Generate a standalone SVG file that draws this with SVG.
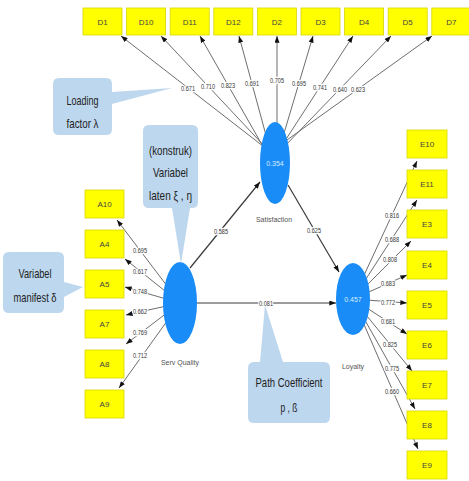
<svg xmlns="http://www.w3.org/2000/svg" width="469" height="481" viewBox="0 0 469 481">
  <defs>
    <marker id="arrow" viewBox="0 0 8 6" refX="8" refY="3" markerWidth="7" markerHeight="5" markerUnits="userSpaceOnUse" orient="auto">
      <path d="M0,0 L8,3 L0,6 Z" fill="#111"/>
    </marker>
    <style>
      .ind { fill: #ffff00; stroke: #d6d600; stroke-width: 0.8; }
      .ind-t { font-family: "Liberation Sans", Arial, sans-serif; font-size: 8px; fill: #444; text-anchor: middle; }
      .lv { fill: #1a8cf7; }
      .lv-v { font-family: "Liberation Sans", Arial, sans-serif; font-size: 7px; fill: #d8ecff; text-anchor: middle; }
      .lv-n { font-family: "Liberation Sans", Arial, sans-serif; font-size: 7px; fill: #555; text-anchor: middle; }
      .load { stroke: #6e6e6e; stroke-width: 1; fill: none; marker-end: url(#arrow); }
      .path { stroke: #3a3a3a; stroke-width: 1.2; fill: none; marker-end: url(#arrow); }
      .num { font-family: "Liberation Sans", Arial, sans-serif; font-size: 7px; fill: #333; text-anchor: middle;
             stroke: #fff; stroke-width: 2.5; paint-order: stroke; }
      .note { fill: #bdd7ee; }
      .note-t { font-family: "Liberation Sans", Arial, sans-serif; font-size: 13px; fill: #222; text-anchor: middle; }
    </style>
  </defs>
  <rect width="469" height="481" fill="#fff"/>

  <!-- connectors -->
  <g id="connectors">
    <!-- Satisfaction indicators -->
    <line class="load" x1="268" y1="150" x2="121" y2="36"/>
    <line class="load" x1="268" y1="150" x2="161" y2="36"/>
    <line class="load" x1="265" y1="150" x2="200" y2="36"/>
    <line class="load" x1="270" y1="150" x2="239" y2="36"/>
    <line class="load" x1="277" y1="150" x2="277" y2="36"/>
    <line class="load" x1="279" y1="150" x2="313" y2="36"/>
    <line class="load" x1="279" y1="150" x2="353" y2="36"/>
    <line class="load" x1="281" y1="150" x2="391" y2="36"/>
    <line class="load" x1="273" y1="150" x2="432" y2="36"/>
    <!-- Serv Quality indicators -->
    <line class="load" x1="180" y1="303" x2="117" y2="220"/>
    <line class="load" x1="180" y1="303" x2="125" y2="259"/>
    <line class="load" x1="180" y1="303" x2="125" y2="287"/>
    <line class="load" x1="180" y1="303" x2="126" y2="315"/>
    <line class="load" x1="180" y1="303" x2="126" y2="344"/>
    <line class="load" x1="180" y1="303" x2="119" y2="388"/>
    <!-- Loyalty indicators -->
    <line class="load" x1="353" y1="299" x2="417" y2="161"/>
    <line class="load" x1="353" y1="299" x2="417" y2="200"/>
    <line class="load" x1="353" y1="299" x2="411" y2="241"/>
    <line class="load" x1="353" y1="299" x2="407" y2="275"/>
    <line class="load" x1="353" y1="299" x2="407" y2="303"/>
    <line class="load" x1="353" y1="299" x2="407" y2="334"/>
    <line class="load" x1="353" y1="299" x2="412" y2="371"/>
    <line class="load" x1="353" y1="299" x2="415" y2="409"/>
    <line class="load" x1="353" y1="299" x2="418" y2="449"/>
    <!-- structural paths -->
    <line class="path" x1="190" y1="268" x2="260" y2="182"/>
    <line class="path" x1="288" y1="185" x2="339" y2="272"/>
    <line class="path" x1="197" y1="303" x2="336" y2="303"/>
  </g>

  <!-- indicator boxes, top row -->
  <g id="D1"><rect class="ind" x="83" y="8" width="39" height="27"/><text class="ind-t" x="102.5" y="24.5">D1</text></g>
  <g id="D10"><rect class="ind" x="126.6" y="8" width="39" height="27"/><text class="ind-t" x="146.1" y="24.5">D10</text></g>
  <g id="D11"><rect class="ind" x="170.2" y="8" width="39" height="27"/><text class="ind-t" x="189.7" y="24.5">D11</text></g>
  <g id="D12"><rect class="ind" x="213.8" y="8" width="39" height="27"/><text class="ind-t" x="233.3" y="24.5">D12</text></g>
  <g id="D2"><rect class="ind" x="257.4" y="8" width="39" height="27"/><text class="ind-t" x="276.9" y="24.5">D2</text></g>
  <g id="D3"><rect class="ind" x="301" y="8" width="39" height="27"/><text class="ind-t" x="320.5" y="24.5">D3</text></g>
  <g id="D4"><rect class="ind" x="344.6" y="8" width="39" height="27"/><text class="ind-t" x="364.1" y="24.5">D4</text></g>
  <g id="D5"><rect class="ind" x="388.2" y="8" width="39" height="27"/><text class="ind-t" x="407.7" y="24.5">D5</text></g>
  <g id="D7"><rect class="ind" x="431.8" y="8" width="39" height="27"/><text class="ind-t" x="451.3" y="24.5">D7</text></g>

  <!-- indicator boxes, left column -->
  <g id="A10"><rect class="ind" x="85" y="190" width="39" height="28"/><text class="ind-t" x="104.5" y="207">A10</text></g>
  <g id="A4"><rect class="ind" x="85" y="230" width="39" height="28"/><text class="ind-t" x="104.5" y="247">A4</text></g>
  <g id="A5"><rect class="ind" x="85" y="270" width="39" height="28"/><text class="ind-t" x="104.5" y="287">A5</text></g>
  <g id="A7"><rect class="ind" x="85" y="310" width="39" height="28"/><text class="ind-t" x="104.5" y="327">A7</text></g>
  <g id="A8"><rect class="ind" x="85" y="350" width="39" height="28"/><text class="ind-t" x="104.5" y="367">A8</text></g>
  <g id="A9"><rect class="ind" x="85" y="390" width="39" height="28"/><text class="ind-t" x="104.5" y="407">A9</text></g>

  <!-- indicator boxes, right column -->
  <g id="E10"><rect class="ind" x="407" y="130" width="40" height="28"/><text class="ind-t" x="427" y="147">E10</text></g>
  <g id="E11"><rect class="ind" x="407" y="170" width="40" height="28"/><text class="ind-t" x="427" y="187">E11</text></g>
  <g id="E3"><rect class="ind" x="407" y="210" width="40" height="28"/><text class="ind-t" x="427" y="227">E3</text></g>
  <g id="E4"><rect class="ind" x="407" y="251" width="40" height="28"/><text class="ind-t" x="427" y="268">E4</text></g>
  <g id="E5"><rect class="ind" x="407" y="291" width="40" height="28"/><text class="ind-t" x="427" y="308">E5</text></g>
  <g id="E6"><rect class="ind" x="407" y="331" width="40" height="28"/><text class="ind-t" x="427" y="348">E6</text></g>
  <g id="E7"><rect class="ind" x="407" y="371" width="40" height="28"/><text class="ind-t" x="427" y="388">E7</text></g>
  <g id="E8"><rect class="ind" x="407" y="411" width="40" height="28"/><text class="ind-t" x="427" y="428">E8</text></g>
  <g id="E9"><rect class="ind" x="407" y="451" width="40" height="28"/><text class="ind-t" x="427" y="468">E9</text></g>

  <!-- latent constructs -->
  <g id="satisfaction">
    <ellipse class="lv" cx="275" cy="163" rx="15" ry="41"/>
    <text class="lv-v" x="275" y="165.5">0.354</text>
    <text class="lv-n" x="274" y="222">Satisfaction</text>
  </g>
  <g id="serv-quality">
    <ellipse class="lv" cx="180" cy="303" rx="17" ry="41"/>
    <text class="lv-n" x="180" y="365">Serv Quality</text>
  </g>
  <g id="loyalty">
    <ellipse class="lv" cx="353" cy="299" rx="17" ry="36"/>
    <text class="lv-v" x="353" y="301.5">0.457</text>
    <text class="lv-n" x="353" y="369">Loyalty</text>
  </g>

  <!-- coefficient labels -->
  <g id="weights">
    <text class="num" x="188" y="90.5" textLength="14" lengthAdjust="spacingAndGlyphs">0.671</text>
    <text class="num" x="208" y="88.5" textLength="14" lengthAdjust="spacingAndGlyphs">0.710</text>
    <text class="num" x="228" y="87.5" textLength="14" lengthAdjust="spacingAndGlyphs">0.823</text>
    <text class="num" x="252" y="85.5" textLength="14" lengthAdjust="spacingAndGlyphs">0.691</text>
    <text class="num" x="277" y="82.5" textLength="14" lengthAdjust="spacingAndGlyphs">0.705</text>
    <text class="num" x="299" y="85.5" textLength="14" lengthAdjust="spacingAndGlyphs">0.695</text>
    <text class="num" x="320" y="89.5" textLength="14" lengthAdjust="spacingAndGlyphs">0.741</text>
    <text class="num" x="340" y="91.5" textLength="14" lengthAdjust="spacingAndGlyphs">0.640</text>
    <text class="num" x="358" y="91.5" textLength="14" lengthAdjust="spacingAndGlyphs">0.623</text>

    <text class="num" x="140" y="252.5" textLength="14" lengthAdjust="spacingAndGlyphs">0.695</text>
    <text class="num" x="140" y="273.5" textLength="14" lengthAdjust="spacingAndGlyphs">0.617</text>
    <text class="num" x="140" y="293.5" textLength="14" lengthAdjust="spacingAndGlyphs">0.748</text>
    <text class="num" x="140" y="314" textLength="14" lengthAdjust="spacingAndGlyphs">0.662</text>
    <text class="num" x="140" y="334.5" textLength="14" lengthAdjust="spacingAndGlyphs">0.769</text>
    <text class="num" x="140" y="358" textLength="14" lengthAdjust="spacingAndGlyphs">0.712</text>

    <text class="num" x="392" y="217.5" textLength="14" lengthAdjust="spacingAndGlyphs">0.816</text>
    <text class="num" x="392" y="241.5" textLength="14" lengthAdjust="spacingAndGlyphs">0.688</text>
    <text class="num" x="390" y="262" textLength="14" lengthAdjust="spacingAndGlyphs">0.808</text>
    <text class="num" x="388" y="285.5" textLength="14" lengthAdjust="spacingAndGlyphs">0.683</text>
    <text class="num" x="388" y="304.5" textLength="14" lengthAdjust="spacingAndGlyphs">0.772</text>
    <text class="num" x="388" y="324" textLength="14" lengthAdjust="spacingAndGlyphs">0.681</text>
    <text class="num" x="390" y="347" textLength="14" lengthAdjust="spacingAndGlyphs">0.825</text>
    <text class="num" x="392" y="370.5" textLength="14" lengthAdjust="spacingAndGlyphs">0.775</text>
    <text class="num" x="392" y="394" textLength="14" lengthAdjust="spacingAndGlyphs">0.660</text>

    <text class="num" x="221" y="233.5" textLength="14" lengthAdjust="spacingAndGlyphs">0.585</text>
    <text class="num" x="314" y="232.5" textLength="14" lengthAdjust="spacingAndGlyphs">0.625</text>
    <text class="num" x="266" y="305.5" textLength="14" lengthAdjust="spacingAndGlyphs">0.081</text>
  </g>

  <!-- annotation callouts -->
  <g id="note-loading">
    <path class="note" d="M59,78 H106 Q112,78 112,84 V92 L172,88 L112,104 V129 Q112,135 106,135 H59 Q53,135 53,129 V84 Q53,78 59,78 Z"/>
    <text class="note-t" x="82.5" y="104.5" textLength="32" lengthAdjust="spacingAndGlyphs">Loading</text>
    <text class="note-t" x="82.5" y="127.5" textLength="32" lengthAdjust="spacingAndGlyphs">factor λ</text>
  </g>
  <g id="note-latent">
    <path class="note" d="M149,125 H192 Q198,125 198,131 V202 Q198,208 192,208 H190 L181,264 L172,208 H149 Q143,208 143,202 V131 Q143,125 149,125 Z"/>
    <text class="note-t" x="170.5" y="154.5" textLength="43" lengthAdjust="spacingAndGlyphs">(konstruk)</text>
    <text class="note-t" x="170.5" y="176.5" textLength="35" lengthAdjust="spacingAndGlyphs">Variabel</text>
    <text class="note-t" x="170.5" y="199.5" textLength="43" lengthAdjust="spacingAndGlyphs">laten ξ , ŋ</text>
  </g>
  <g id="note-manifest">
    <path class="note" d="M9,252 H58 Q64,252 64,258 V282 L83,287 L64,297 V307 Q64,313 58,313 H9 Q3,313 3,307 V258 Q3,252 9,252 Z"/>
    <text class="note-t" x="35" y="277.5" textLength="33" lengthAdjust="spacingAndGlyphs">Variabel</text>
    <text class="note-t" x="35" y="301.5" textLength="43" lengthAdjust="spacingAndGlyphs">manifest δ</text>
  </g>
  <g id="note-path">
    <path class="note" d="M254,362 H260 L265,305 L283,362 H324 Q330,362 330,368 V417 Q330,423 324,423 H254 Q248,423 248,417 V368 Q248,362 254,362 Z"/>
    <text class="note-t" x="289" y="386.5" textLength="67" lengthAdjust="spacingAndGlyphs">Path Coefficient</text>
    <text class="note-t" x="289" y="411.5" textLength="17" lengthAdjust="spacingAndGlyphs">p , ß</text>
  </g>
</svg>
